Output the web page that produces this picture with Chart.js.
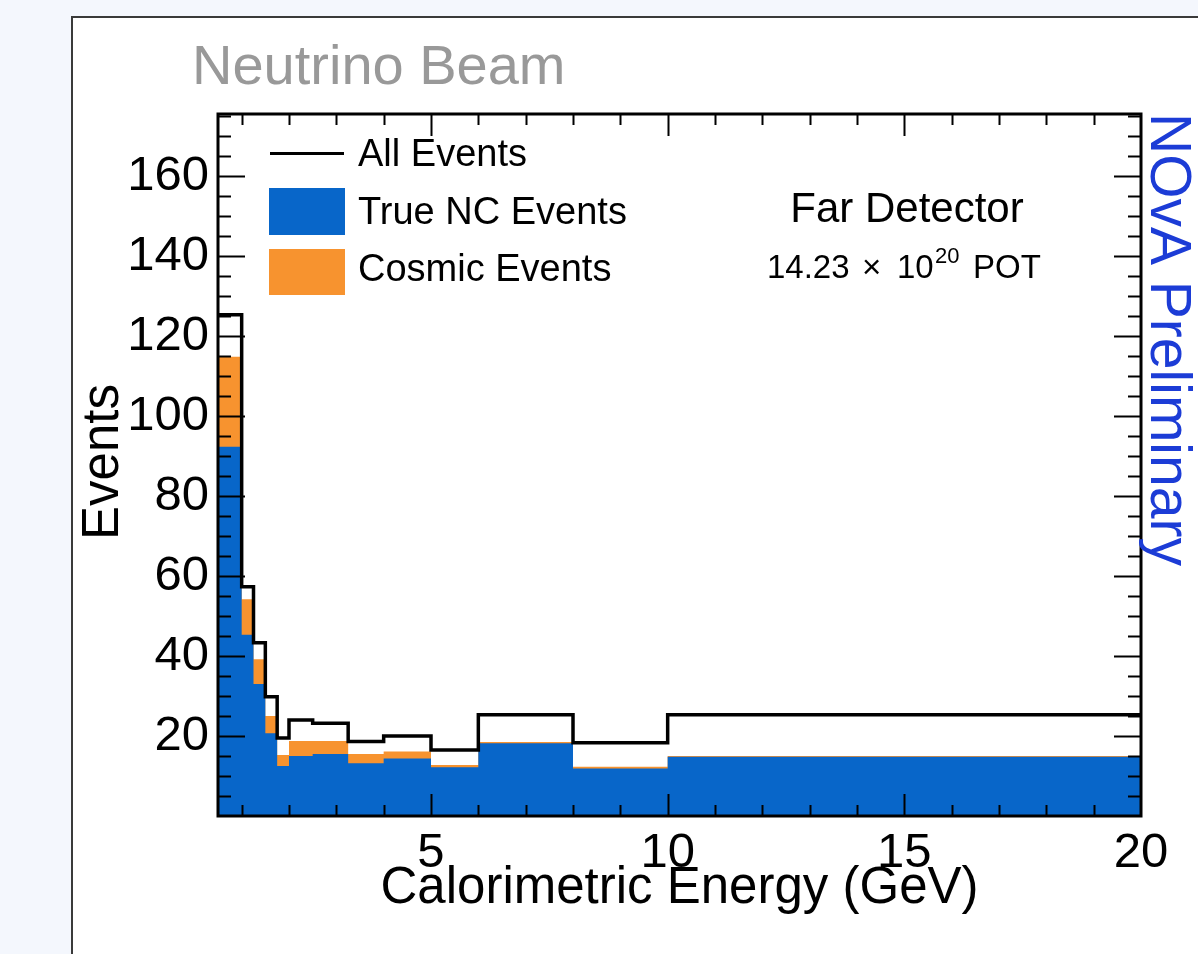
<!DOCTYPE html>
<html>
<head>
<meta charset="utf-8">
<title>Calorimetric Energy - Far Detector</title>
<script src="https://cdn.jsdelivr.net/npm/chart.js@4.4.1/dist/chart.umd.min.js"></script>
<style>
    html, body { margin: 0; padding: 0; }
    body { width: 1198px; height: 954px; overflow: hidden; background: #f4f7fd; position: relative; }
    #carte { position: absolute; left: 71px; top: 16px; width: 1200px; height: 1000px; background: #fff; border: 2px solid #3a3a3a; }
    #c { position: absolute; left: 0; top: 0; }
</style>
</head>
<body>
<div id="carte"></div>
<canvas id="c" width="1198" height="954"></canvas>
<script>
// Bornes des bins (GeV) et contenus
const binEdges = [0.5, 1, 1.25, 1.5, 1.75, 2, 2.5, 3.25, 4, 5, 6, 8, 10, 20];
const allEvents = [125.3, 57.3, 43.3, 29.8, 19.5, 24.0, 23.2, 18.6, 20.0, 16.5, 25.3, 18.3, 25.3];
const trueNC    = [92.3, 45.3, 33.0, 20.7, 12.5, 15.0, 15.5, 13.2, 14.4, 12.2, 18.2, 11.9, 14.8];
const cosmic    = [22.5, 8.9, 6.2, 4.3, 2.75, 3.75, 3.25, 2.3, 1.7, 0.55, 0.3, 0.4, 0.2];

const xTicks = [5, 10, 15, 20];
const yTicks = [20, 40, 60, 80, 100, 120, 140, 160];

const FONT = '"Liberation Sans", Arial, Helvetica, sans-serif';
const BLUE = '#0866c9';
const ORANGE = '#f7932f';

// histogramme -> points en escalier (valeur du bin tenue jusqu'au bord suivant)
function toSteps(values) {
    return binEdges.map((e, i) => ({ x: e, y: values[Math.min(i, values.length - 1)] }));
}
const ncPlusCosmic = trueNC.map((v, i) => v + cosmic[i]);

// Cadre, graduations internes et textes facon ROOT
const rootStyle = {
    id: 'rootStyle',
    afterDraw(chart) {
        const ctx = chart.ctx;
        const a = chart.chartArea;
        const xs = chart.scales.x, ys = chart.scales.y;
        ctx.save();
        ctx.strokeStyle = '#000';

        // graduations
        ctx.lineWidth = 2;
        ctx.beginPath();
        for (let v = 1; v < 20; v++) {
            const px = Math.round(xs.getPixelForValue(v)) + 0.5;
            const len = v % 5 === 0 ? 22 : 11;
            ctx.moveTo(px, a.bottom); ctx.lineTo(px, a.bottom - len);
            ctx.moveTo(px, a.top); ctx.lineTo(px, a.top + len);
        }
        for (let v = 5; v < ys.max; v += 5) {
            const py = Math.round(ys.getPixelForValue(v)) + 0.5;
            const len = v % 20 === 0 ? 27 : 13;
            ctx.moveTo(a.left, py); ctx.lineTo(a.left + len, py);
            ctx.moveTo(a.right, py); ctx.lineTo(a.right - len, py);
        }
        ctx.stroke();

        // cadre
        ctx.lineWidth = 3;
        ctx.strokeRect(a.left, a.top, a.right - a.left, a.bottom - a.top);

        // titres des axes
        ctx.fillStyle = '#000';
        ctx.font = '51px ' + FONT;
        ctx.textAlign = 'center';
        ctx.textBaseline = 'alphabetic';
        ctx.fillText('Calorimetric Energy (GeV)', (a.left + a.right) / 2, 903);

        ctx.save();
        ctx.translate(118, 462);
        ctx.rotate(-Math.PI / 2);
        ctx.font = '51px ' + FONT;
        ctx.fillText('Events', 0, 0);
        ctx.restore();

        // titre
        ctx.textAlign = 'left';
        ctx.fillStyle = '#999';
        ctx.font = '56px ' + FONT;
        ctx.fillText('Neutrino Beam', 192, 84);

        // NOvA Preliminary
        ctx.save();
        ctx.translate(1151, 113);
        ctx.rotate(Math.PI / 2);
        ctx.fillStyle = '#1c3cd6';
        ctx.font = '57px ' + FONT;
        ctx.fillText('NOvA Preliminary', 0, 0);
        ctx.restore();

        // legende
        const ds = chart.data.datasets;
        ctx.fillStyle = '#000';
        ctx.font = '38px ' + FONT;
        ctx.strokeStyle = ds[0].borderColor;
        ctx.lineWidth = 3;
        ctx.beginPath();
        ctx.moveTo(270, 153.5); ctx.lineTo(344, 153.5);
        ctx.stroke();
        ctx.fillText(ds[0].label, 358, 166);
        ctx.fillStyle = ds[1].backgroundColor;
        ctx.fillRect(269, 188, 76, 47);
        ctx.fillStyle = '#000';
        ctx.fillText(ds[1].label, 358, 224);
        ctx.fillStyle = ds[2].backgroundColor;
        ctx.fillRect(269, 249, 76, 46);
        ctx.fillStyle = '#000';
        ctx.fillText(ds[2].label, 358, 281);

        // Far Detector / POT
        ctx.textAlign = 'center';
        ctx.font = '42px ' + FONT;
        ctx.fillText('Far Detector', 907, 222);
        ctx.textAlign = 'left';
        ctx.font = '33px ' + FONT;
        ctx.fillText('14.23', 767, 278);
        ctx.fillText('\u00d7', 862, 278);
        ctx.fillText('10', 897, 278);
        ctx.fillText('POT', 973, 278);
        ctx.font = '22px ' + FONT;
        ctx.fillText('20', 935, 263);
        ctx.restore();
    }
};

const chart = new Chart(document.getElementById('c').getContext('2d'), {
    type: 'line',
    data: {
        datasets: [
            {
                label: 'All Events',
                data: toSteps(allEvents),
                borderColor: '#000',
                borderWidth: 3.5,
                stepped: 'before',
                pointRadius: 0,
                fill: false
            },
            {
                label: 'True NC Events',
                data: toSteps(trueNC),
                borderWidth: 0,
                borderColor: BLUE,
                backgroundColor: BLUE,
                stepped: 'before',
                pointRadius: 0,
                fill: 'origin'
            },
            {
                label: 'Cosmic Events',
                data: toSteps(ncPlusCosmic),
                borderWidth: 0,
                borderColor: ORANGE,
                backgroundColor: ORANGE,
                stepped: 'before',
                pointRadius: 0,
                fill: 'origin'
            }
        ]
    },
    options: {
        responsive: false,
        devicePixelRatio: 1,
        animation: false,
        layout: { padding: { left: 0, top: 114, right: 57, bottom: 0 } },
        plugins: {
            legend: { display: false },
            tooltip: { enabled: false }
        },
        scales: {
            x: {
                type: 'linear',
                min: 0.5,
                max: 20,
                grid: { display: false, drawTicks: false },
                border: { display: false },
                afterBuildTicks: s => { s.ticks = xTicks.map(v => ({ value: v })); },
                afterFit: s => { s.height = 138; },
                ticks: {
                    color: '#000',
                    padding: 8,
                    maxRotation: 0,
                    font: { family: FONT, size: 49 }
                }
            },
            y: {
                min: 0,
                max: 175.5,
                grid: { display: false, drawTicks: false },
                border: { display: false },
                afterBuildTicks: s => { s.ticks = yTicks.map(v => ({ value: v })); },
                afterFit: s => { s.width = 218; },
                ticks: {
                    color: '#000',
                    padding: 9,
                    font: { family: FONT, size: 49 }
                }
            }
        }
    },
    plugins: [rootStyle]
});
</script>
</body>
</html>
